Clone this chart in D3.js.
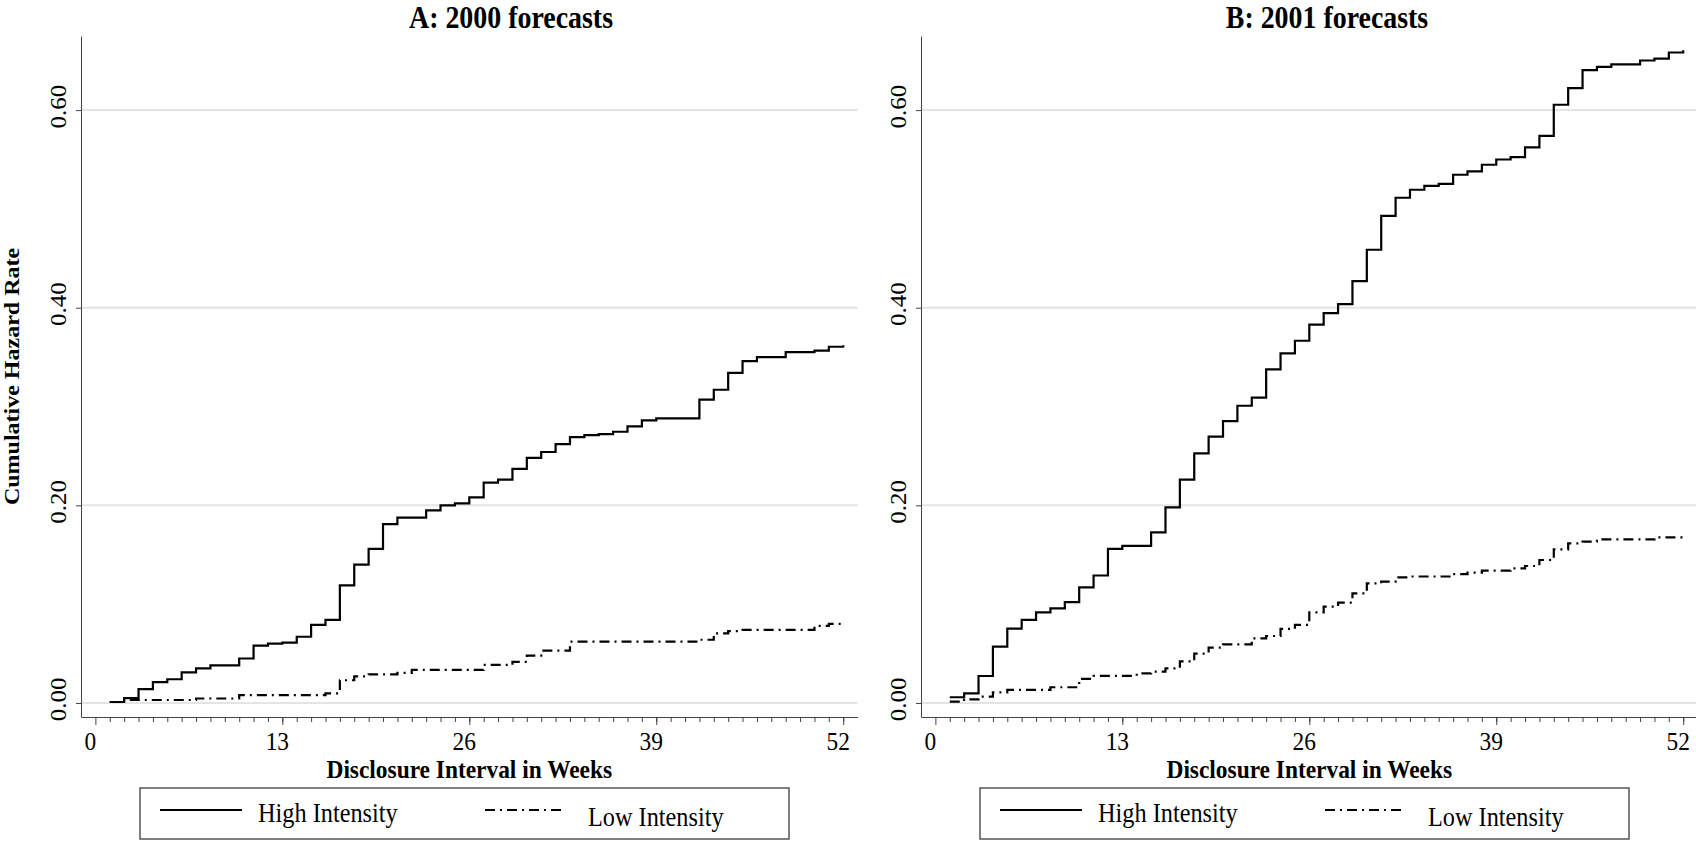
<!DOCTYPE html>
<html>
<head>
<meta charset="utf-8">
<script src="https://cdn.jsdelivr.net/npm/d3@7"></script>
<style>
  body { margin: 0; background: #fff; }
  text { font-family: "Liberation Serif", "Times New Roman", serif; fill: #000; }
</style>
</head>
<body>
<svg id="chart" width="1696" height="841"></svg>
<script>
// tick labels
const majorWeeks = [0, 13, 26, 39, 52];
const yTicks = [0, 0.2, 0.4, 0.6];
const seriesNames = ["High Intensity", "Low Intensity"];
const panelTitles = ["A: 2000 forecasts", "B: 2001 forecasts"];

// [week, cumulative hazard]
const highA = [[1,.001],[2,.005],[3,.014],[4,.021],[5,.024],[6,.031],[7,.035],[8,.038],[10,.045],[11,.058],[12,.060],[13,.061],[14,.067],[15,.079],[16,.084],[17,.119],[18,.140],[19,.156],[20,.181],[21,.1875],[23,.195],[24,.200],[25,.202],[26,.208],[27,.223],[28,.226],[29,.237],[30,.248],[31,.254],[32,.262],[33,.269],[34,.271],[35,.272],[36,.2745],[37,.280],[38,.286],[39,.288],[42,.307],[43,.317],[44,.334],[45,.346],[46,.350],[48,.355],[50,.3565],[51,.3605],[52,.362]];
const lowA = [[1,.001],[2,.003],[7,.0045],[10,.008],[16,.0098],[17,.023],[18,.027],[19,.029],[21,.0305],[22,.0334],[27,.0385],[29,.0415],[30,.048],[31,.053],[33,.062],[42,.064],[43,.0705],[44,.0728],[45,.074],[50,.078],[51,.080],[52,.081]];
const highB = [[1,.0058],[2,.0098],[3,.0273],[4,.057],[5,.0752],[6,.084],[7,.0917],[8,.0958],[9,.102],[10,.117],[11,.129],[12,.156],[13,.159],[15,.1727],[16,.198],[17,.226],[18,.2526],[19,.2695],[20,.2853],[21,.3008],[22,.309],[23,.3376],[24,.3538],[25,.3666],[26,.3828],[27,.3946],[28,.4037],[29,.427],[30,.4587],[31,.493],[32,.5113],[33,.5194],[34,.5234],[35,.5254],[36,.5346],[37,.538],[38,.5447],[39,.55],[40,.5525],[41,.5623],[42,.574],[43,.6054],[44,.6223],[45,.6405],[46,.6438],[47,.6462],[49,.6502],[50,.6522],[51,.6583],[52,.6607]];
const lowB = [[1,.0013],[2,.0037],[3,.0064],[4,.0108],[5,.0132],[8,.0159],[10,.0243],[11,.0275],[14,.030],[15,.0317],[16,.035],[17,.042],[18,.050],[19,.056],[20,.0594],[22,.0654],[23,.0678],[24,.0749],[25,.079],[26,.0917],[27,.0975],[28,.1015],[29,.111],[30,.121],[31,.1228],[32,.1272],[33,.128],[36,.1304],[37,.132],[38,.134],[40,.1362],[41,.1386],[42,.1447],[43,.1555],[44,.1616],[45,.1633],[46,.1656],[50,.1676],[52,.1676]];

const SX = 0.9; // the picture's text is a bit narrow
const DASH = "10,5,2,5";
const AXIS_COL = "#444";
const svg = d3.select("#chart");

function drawPanel(left, title, titleX, high, low, withYTitle) {
  const x = d3.scaleLinear().domain([-1, 53]).range([left, left + 776.6]);
  const y = d3.scaleLinear().domain([-0.0142, 0.675]).range([717, 36]);
  const g = svg.append("g");

  // grid
  g.append("g").selectAll("line").data(yTicks).enter().append("line")
    .attr("x1", left + 1).attr("x2", left + 776.6)
    .attr("y1", d => y(d)).attr("y2", d => y(d))
    .attr("stroke", "#e4e4e4").attr("stroke-width", 2);

  // y axis
  const yAxis = g.append("g").attr("transform", `translate(${left},0)`)
    .call(d3.axisLeft(y).tickValues(yTicks).tickSize(5).tickSizeOuter(0).tickFormat(d3.format(".2f")));
  yAxis.attr("font-family", null).attr("font-size", 25);
  yAxis.select(".domain").attr("stroke", AXIS_COL);
  yAxis.selectAll(".tick line").attr("stroke", AXIS_COL);
  yAxis.selectAll(".tick text")
    .attr("x", 4).attr("y", 0).attr("dy", null)
    .attr("text-anchor", "middle")
    .attr("transform", `translate(-15,0) scale(${SX},1) rotate(-90)`);

  // x axis: minor weekly ticks, then labelled majors
  const xg = g.append("g").attr("transform", "translate(0,717)");
  xg.append("g").call(d3.axisBottom(x).tickValues(d3.range(1, 53)).tickSize(5).tickSizeOuter(0).tickFormat(""))
    .call(s => s.select(".domain").attr("stroke", AXIS_COL))
    .call(s => s.selectAll(".tick line").attr("stroke", AXIS_COL));
  const major = xg.append("g").call(d3.axisBottom(x).tickValues(majorWeeks).tickSize(8).tickSizeOuter(0));
  major.attr("font-family", null).attr("font-size", 26);
  major.select(".domain").remove();
  major.selectAll(".tick line").attr("stroke", AXIS_COL);
  major.selectAll(".tick text").attr("y", 0).attr("dy", null)
    .attr("transform", `translate(-5.5,33) scale(${SX},1)`);

  // step curves
  const line = d3.line().x(d => x(d[0])).y(d => y(d[1])).curve(d3.curveStepAfter);
  g.append("path").datum(low).attr("d", line)
    .attr("fill", "none").attr("stroke", "#000").attr("stroke-width", 2.2).attr("stroke-dasharray", DASH);
  g.append("path").datum(high).attr("d", line)
    .attr("fill", "none").attr("stroke", "#000").attr("stroke-width", 2.2);

  // titles
  g.append("text").text(title)
    .attr("text-anchor", "middle").attr("font-size", 31).attr("font-weight", "bold")
    .attr("transform", `translate(${titleX},28) scale(${SX},1)`);
  g.append("text").text("Disclosure Interval in Weeks")
    .attr("text-anchor", "middle").attr("font-size", 26).attr("font-weight", "bold")
    .attr("transform", `translate(${left + 388.3},778) scale(${SX},1)`);
  if (withYTitle) {
    g.append("text").text("Cumulative Hazard Rate")
      .attr("text-anchor", "middle").attr("font-size", 24).attr("font-weight", "bold")
      .attr("transform", `translate(19,${(y(0.675) + y(-0.0142)) / 2}) scale(0.88,1) rotate(-90)`);
  }

  // legend
  const lx = left + 59;
  const lg = g.append("g");
  lg.append("rect").attr("x", lx).attr("y", 788).attr("width", 649).attr("height", 51)
    .attr("fill", "none").attr("stroke", "#555").attr("stroke-width", 1.5);
  lg.append("line").attr("x1", lx + 20).attr("x2", lx + 102).attr("y1", 810).attr("y2", 810)
    .attr("stroke", "#000").attr("stroke-width", 2.2);
  lg.append("text").text(seriesNames[0]).attr("font-size", 27)
    .attr("transform", `translate(${lx + 118},822) scale(${SX},1)`);
  lg.append("line").attr("x1", lx + 345).attr("x2", lx + 425).attr("y1", 810).attr("y2", 810)
    .attr("stroke", "#000").attr("stroke-width", 2.2).attr("stroke-dasharray", DASH);
  lg.append("text").text(seriesNames[1]).attr("font-size", 27)
    .attr("transform", `translate(${lx + 448},825.5) scale(${SX},1)`);
}

drawPanel(81, panelTitles[0], 511, highA, lowA, true);
drawPanel(921, panelTitles[1], 1327, highB, lowB, false);
</script>
</body>
</html>
